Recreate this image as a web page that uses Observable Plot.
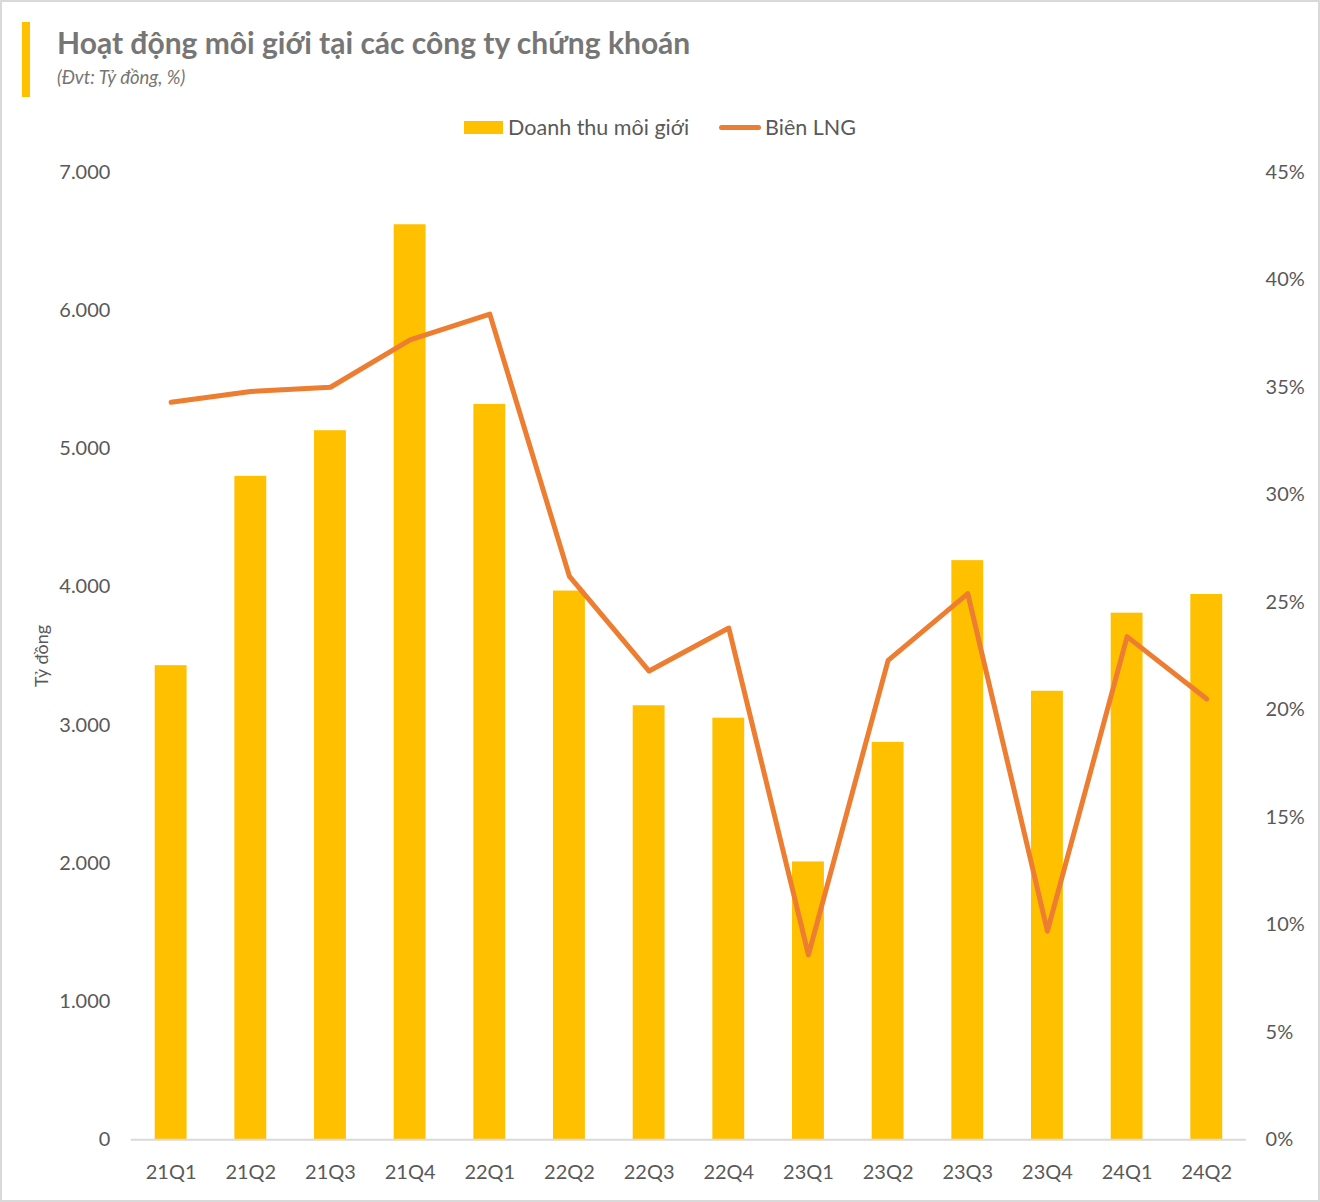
<!DOCTYPE html>
<html>
<head>
<meta charset="utf-8">
<script src="https://cdn.jsdelivr.net/npm/d3@7"></script>
<script src="https://cdn.jsdelivr.net/npm/@observablehq/plot@0.6"></script>
<style>
  html, body { margin: 0; padding: 0; background: #fff; }
  #wrap { position: relative; width: 1320px; height: 1202px; box-sizing: border-box; border: 2px solid #d9d9d9; overflow: hidden; font-family: Lato, "Open Sans", sans-serif; }
  #bar { position: absolute; left: 20px; top: 20px; width: 8px; height: 75px; background: #FFC000; }
  #title { position: absolute; left: 55px; top: 22px; font-size: 30px; font-weight: 700; color: #767676; white-space: nowrap; }
  #subtitle { position: absolute; left: 55px; top: 64px; font-size: 18.5px; font-style: italic; color: #767676; white-space: nowrap; }
  #legend { position: absolute; left: 0; width: 100%; top: 112px; display: flex; justify-content: center; align-items: center; font-size: 21.5px; color: #595959; }
  .sw-bar { display: inline-block; width: 39px; height: 13px; background: #FFC000; margin-right: 5px; }
  .sw-line { display: inline-block; width: 42px; height: 5px; border-radius: 3px; background: #ED7D31; margin-right: 4px; margin-left: 30px; }
  #chart { position: absolute; left: -2px; top: -2px; }
</style>
</head>
<body>
<div id="wrap">
  <div id="bar"></div>
  <div id="title">Hoạt động môi giới tại các công ty chứng khoán</div>
  <div id="subtitle">(Đvt: Tỷ đồng, %)</div>
  <div id="legend"><span class="sw-bar"></span><span>Doanh thu môi giới</span><span class="sw-line"></span><span>Biên LNG</span></div>
  <div id="chart"></div>
</div>
<script>
const quarters = ["21Q1","21Q2","21Q3","21Q4","22Q1","22Q2","22Q3","22Q4","23Q1","23Q2","23Q3","23Q4","24Q1","24Q2"];
const revenue = [3430, 4800, 5130, 6620, 5320, 3970, 3140, 3050, 2010, 2875, 4190, 3245, 3810, 3945];
const margin = [34.3, 34.8, 35.0, 37.2, 38.4, 26.2, 21.8, 23.8, 8.6, 22.3, 25.4, 9.7, 23.4, 20.5];
const leftTicks = [0, 1000, 2000, 3000, 4000, 5000, 6000, 7000];
const rightTicks = [0, 5, 10, 15, 20, 25, 30, 35, 40, 45];
const yLabel = "Tỷ đồng";

const leftMax = 7000, rightMax = 45;
const toLeft = p => p * leftMax / rightMax;
const data = quarters.map((q, i) => ({q, rev: revenue[i], pct: margin[i], pctY: toLeft(margin[i])}));
const thou = d => d3.format(",")(d).replace(/,/g, ".");

const chart = Plot.plot({
  width: 1320,
  height: 1202,
  marginTop: 172,
  marginBottom: 61,
  marginLeft: 131,
  marginRight: 72,
  style: { fontFamily: "Lato, 'Open Sans', sans-serif", fontSize: "20px", color: "#595959", background: "transparent" },
  x: { domain: quarters, paddingInner: 0.6, paddingOuter: 0.3, align: 0.5, round: false, label: null },
  y: { domain: [0, leftMax], label: null },
  marks: [
    Plot.barY(data, { x: "q", y: "rev", fill: "#FFC000" }),
    Plot.ruleY([0], { stroke: "#d9d9d9", strokeWidth: 2 }),
    Plot.line(data, { x: "q", y: "pctY", stroke: "#ED7D31", strokeWidth: 5, strokeLinejoin: "round", strokeLinecap: "round" }),
    Plot.axisX({ tickSize: 0, tickPadding: 25, label: null, fontSize: 20 }),
    Plot.axisY({ anchor: "left", ticks: leftTicks, tickFormat: thou, tickSize: 0, tickPadding: 21, label: null, fontSize: 20 }),
    Plot.axisY({ anchor: "right", ticks: rightTicks.map(toLeft), tickFormat: d => Math.round(d * rightMax / leftMax) + "%", tickSize: 0, tickPadding: 19, label: null, fontSize: 20 }),
    Plot.text([yLabel], { text: d => d, frameAnchor: "left", rotate: -90, dx: -89, fontSize: 18, fill: "#595959", textAnchor: "middle" })
  ]
});
document.getElementById("chart").appendChild(chart);
</script>
</body>
</html>
